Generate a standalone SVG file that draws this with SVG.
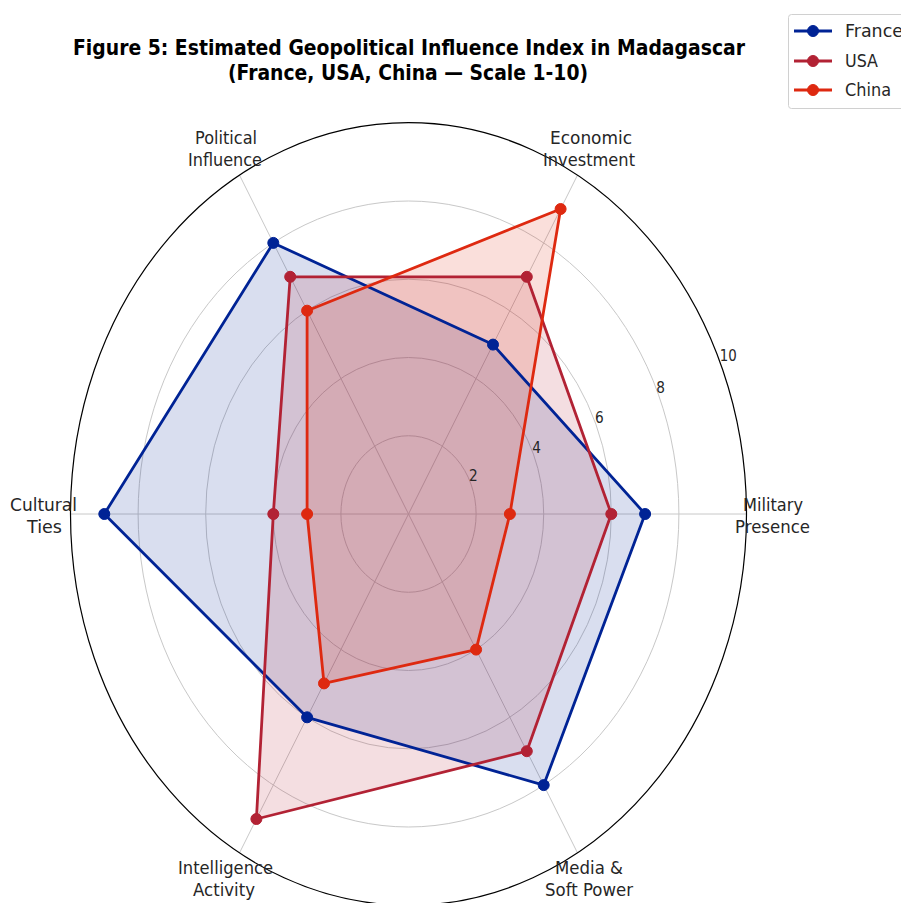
<svg xmlns="http://www.w3.org/2000/svg" width="901" height="903" viewBox="0 0 901 903">
<style>
.grid{fill:none;stroke:#c8c8c8;stroke-width:1}
.spoke{stroke:#c8c8c8;stroke-width:1}
.spine{fill:none;stroke:#000;stroke-width:1.2}
.lbl{font-family:"DejaVu Sans",sans-serif;font-size:18px;fill:#262626;text-anchor:middle}
.tick{font-family:"DejaVu Sans",sans-serif;font-size:16px;fill:#262626;text-anchor:middle}
.title{font-family:"DejaVu Sans",sans-serif;font-size:20.5px;font-weight:bold;fill:#000;text-anchor:middle}
.leg{font-family:"DejaVu Sans",sans-serif;font-size:17px;fill:#262626}
.fr{stroke:#002395;fill:#002395}
.us{stroke:#B22234;fill:#B22234}
.cn{stroke:#DE2910;fill:#DE2910}
.line{fill:none;stroke-width:2.8;stroke-linejoin:round}
.area{stroke:none;fill-opacity:0.15}
</style>
<rect width="901" height="903" fill="#fff"/>
<g id="grid">
<ellipse class="grid" cx="408.5" cy="514" rx="67.6" ry="78.26"/>
<ellipse class="grid" cx="408.5" cy="514" rx="135.2" ry="156.5"/>
<ellipse class="grid" cx="408.5" cy="514" rx="202.8" ry="234.8"/>
<ellipse class="grid" cx="408.5" cy="514" rx="270.4" ry="313"/>
<line class="spoke" x1="408.5" y1="514" x2="746.5" y2="514"/>
<line class="spoke" x1="408.5" y1="514" x2="577.5" y2="175.1"/>
<line class="spoke" x1="408.5" y1="514" x2="239.5" y2="175.1"/>
<line class="spoke" x1="408.5" y1="514" x2="70.5" y2="514"/>
<line class="spoke" x1="408.5" y1="514" x2="239.5" y2="852.9"/>
<line class="spoke" x1="408.5" y1="514" x2="577.5" y2="852.9"/>
</g>
<g id="fills">
<polygon class="fr area" points="645.1,514 493,344.6 273.3,242.9 104.3,514 307.1,717.3 543.7,785.1"/>
<polygon class="us area" points="611.3,514 526.8,276.8 290.2,276.8 273.3,514 256.4,819 526.8,751.2"/>
<polygon class="cn area" points="509.9,514 560.6,209 307.1,310.7 307.1,514 324,683.4 476.1,649.6"/>
</g>
<g id="France">
<polygon class="fr line" points="645.1,514 493,344.6 273.3,242.9 104.3,514 307.1,717.3 543.7,785.1"/>
<g class="fr"><circle cx="645.1" cy="514" r="5.5"/><circle cx="493" cy="344.6" r="5.5"/><circle cx="273.3" cy="242.9" r="5.5"/><circle cx="104.3" cy="514" r="5.5"/><circle cx="307.1" cy="717.3" r="5.5"/><circle cx="543.7" cy="785.1" r="5.5"/></g>
</g>
<g id="USA">
<polygon class="us line" points="611.3,514 526.8,276.8 290.2,276.8 273.3,514 256.4,819 526.8,751.2"/>
<g class="us"><circle cx="611.3" cy="514" r="5.5"/><circle cx="526.8" cy="276.8" r="5.5"/><circle cx="290.2" cy="276.8" r="5.5"/><circle cx="273.3" cy="514" r="5.5"/><circle cx="256.4" cy="819" r="5.5"/><circle cx="526.8" cy="751.2" r="5.5"/></g>
</g>
<g id="China">
<polygon class="cn line" points="509.9,514 560.6,209 307.1,310.7 307.1,514 324,683.4 476.1,649.6"/>
<g class="cn"><circle cx="509.9" cy="514" r="5.5"/><circle cx="560.6" cy="209" r="5.5"/><circle cx="307.1" cy="310.7" r="5.5"/><circle cx="307.1" cy="514" r="5.5"/><circle cx="324" cy="683.4" r="5.5"/><circle cx="476.1" cy="649.6" r="5.5"/></g>
</g>
<ellipse class="spine" cx="408.5" cy="514" rx="338" ry="391.3"/>
<g id="ticks">
<text class="tick" x="473.3" y="481" textLength="8.7" lengthAdjust="spacingAndGlyphs">2</text>
<text class="tick" x="536.7" y="452.7" textLength="8.7" lengthAdjust="spacingAndGlyphs">4</text>
<text class="tick" x="599.3" y="422.7" textLength="8.7" lengthAdjust="spacingAndGlyphs">6</text>
<text class="tick" x="660.7" y="392.7" textLength="8.7" lengthAdjust="spacingAndGlyphs">8</text>
<text class="tick" x="728.3" y="361" textLength="17" lengthAdjust="spacingAndGlyphs">10</text>
</g>
<g id="labels">
<text class="lbl" x="773" y="511" textLength="60" lengthAdjust="spacingAndGlyphs">Military</text>
<text class="lbl" x="772.5" y="533" textLength="75" lengthAdjust="spacingAndGlyphs">Presence</text>
<text class="lbl" x="591" y="143.5" textLength="82" lengthAdjust="spacingAndGlyphs">Economic</text>
<text class="lbl" x="589" y="165.5" textLength="92" lengthAdjust="spacingAndGlyphs">Investment</text>
<text class="lbl" x="226" y="143.5" textLength="62" lengthAdjust="spacingAndGlyphs">Political</text>
<text class="lbl" x="225" y="165.5" textLength="74" lengthAdjust="spacingAndGlyphs">Influence</text>
<text class="lbl" x="43.5" y="511" textLength="67" lengthAdjust="spacingAndGlyphs">Cultural</text>
<text class="lbl" x="44.5" y="533" textLength="35" lengthAdjust="spacingAndGlyphs">Ties</text>
<text class="lbl" x="225.5" y="874" textLength="95" lengthAdjust="spacingAndGlyphs">Intelligence</text>
<text class="lbl" x="224" y="896" textLength="62" lengthAdjust="spacingAndGlyphs">Activity</text>
<text class="lbl" x="589" y="874" textLength="68" lengthAdjust="spacingAndGlyphs">Media &amp;</text>
<text class="lbl" x="589" y="896" textLength="88" lengthAdjust="spacingAndGlyphs">Soft Power</text>
</g>
<g id="title">
<text class="title" x="409" y="55" textLength="672" lengthAdjust="spacingAndGlyphs">Figure 5: Estimated Geopolitical Influence Index in Madagascar</text>
<text class="title" x="408" y="80" textLength="360" lengthAdjust="spacingAndGlyphs">(France, USA, China — Scale 1-10)</text>
</g>
<g id="legend">
<rect x="788.5" y="14.5" width="120" height="94" rx="3" fill="#fff" fill-opacity="0.8" stroke="#d0d0d0"/>
<line class="fr" x1="794" y1="31" x2="832" y2="31" stroke-width="2.8"/><circle class="fr" cx="813" cy="31" r="5.5"/>
<text class="leg" x="845" y="37" textLength="58" lengthAdjust="spacingAndGlyphs">France</text>
<line class="us" x1="794" y1="61" x2="832" y2="61" stroke-width="2.8"/><circle class="us" cx="813" cy="61" r="5.5"/>
<text class="leg" x="845" y="67" textLength="33" lengthAdjust="spacingAndGlyphs">USA</text>
<line class="cn" x1="794" y1="90" x2="832" y2="90" stroke-width="2.8"/><circle class="cn" cx="813" cy="90" r="5.5"/>
<text class="leg" x="845" y="96" textLength="46" lengthAdjust="spacingAndGlyphs">China</text>
</g>
</svg>
